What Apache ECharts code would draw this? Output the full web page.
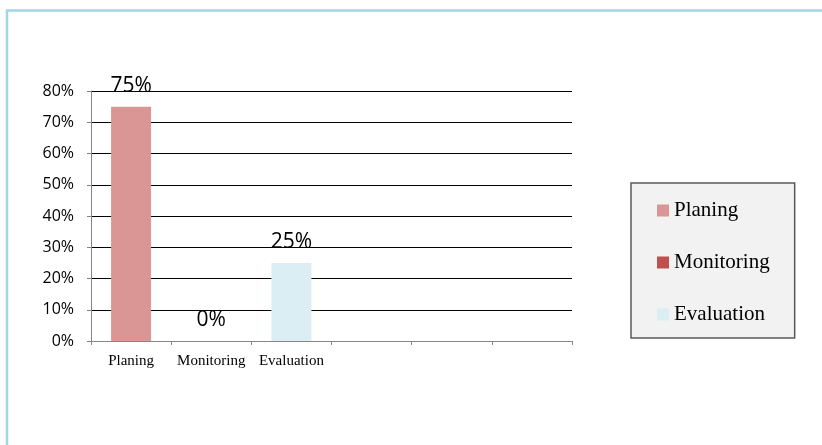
<!DOCTYPE html>
<html>
<head>
<meta charset="utf-8">
<script src="https://cdn.jsdelivr.net/npm/echarts@6/dist/echarts.min.js"></script>
<style>
  html, body { margin: 0; padding: 0; background: #ffffff; }
  #chart { width: 822px; height: 445px; }
</style>
</head>
<body>
<div id="chart"></div>
<script>
// Categories along the x axis (last three slots are empty)
const categories = ['Planing', 'Monitoring', 'Evaluation', '', '', ''];
// Share of each activity, in percent
const planing = [75, '-', '-', '-', '-', '-'];
const monitoring = ['-', 0, '-', '-', '-', '-'];
const evaluation = ['-', '-', 25, '-', '-', '-'];
// Y-axis range and step
const yMin = 0, yMax = 80, yStep = 10;

const seriesDefs = [
  { name: 'Planing', data: planing, color: '#d99694' },
  { name: 'Monitoring', data: monitoring, color: '#c0504d' },
  { name: 'Evaluation', data: evaluation, color: '#dbeef4' }
];

const chart = echarts.init(document.getElementById('chart'), null, { renderer: 'canvas' });

chart.setOption({
  animation: false,
  backgroundColor: '#ffffff',
  graphic: [{
    type: 'polyline',
    shape: { points: [[7, 445], [7, 10.5], [822, 10.5]] },
    style: { stroke: '#a3d5e4', lineWidth: 2.5, fill: null },
    silent: true
  }],
  grid: { left: 91, top: 91, width: 481, height: 250, containLabel: false },
  legend: {
    orient: 'vertical',
    left: 631,
    top: 183,
    padding: [17, 25, 13, 26],
    itemGap: 31,
    itemWidth: 12,
    itemHeight: 12,
    icon: 'rect',
    backgroundColor: '#f2f2f2',
    borderColor: '#595959',
    borderWidth: 1.5,
    textStyle: { fontFamily: 'Liberation Serif', fontSize: 21, color: '#000' },
    data: seriesDefs.map(s => s.name)
  },
  xAxis: {
    type: 'category',
    data: categories,
    axisLine: { lineStyle: { color: '#868686', width: 1 } },
    axisTick: { show: true, length: 4, alignWithLabel: false, lineStyle: { color: '#868686' } },
    axisLabel: { fontFamily: 'Liberation Serif', fontSize: 15, color: '#000', margin: 13, interval: 0 },
    splitLine: { show: false }
  },
  yAxis: {
    type: 'value',
    min: yMin,
    max: yMax,
    interval: yStep,
    axisLine: { show: true, lineStyle: { color: '#868686', width: 1 } },
    axisTick: { show: true, length: 4, lineStyle: { color: '#868686' } },
    axisLabel: { formatter: '{value}%', fontFamily: 'Open Sans', fontSize: 16, color: '#000', margin: 17 },
    splitLine: { show: true, lineStyle: { color: '#000', width: 1 } }
  },
  series: seriesDefs.map(s => ({
    name: s.name,
    type: 'bar',
    stack: 'all',
    barWidth: 40,
    data: s.data,
    itemStyle: { color: s.color },
    label: {
      show: true,
      position: 'top',
      distance: 10,
      formatter: '{c}%',
      fontFamily: 'Open Sans',
      fontSize: 21,
      color: '#000'
    }
  }))
});
</script>
</body>
</html>
